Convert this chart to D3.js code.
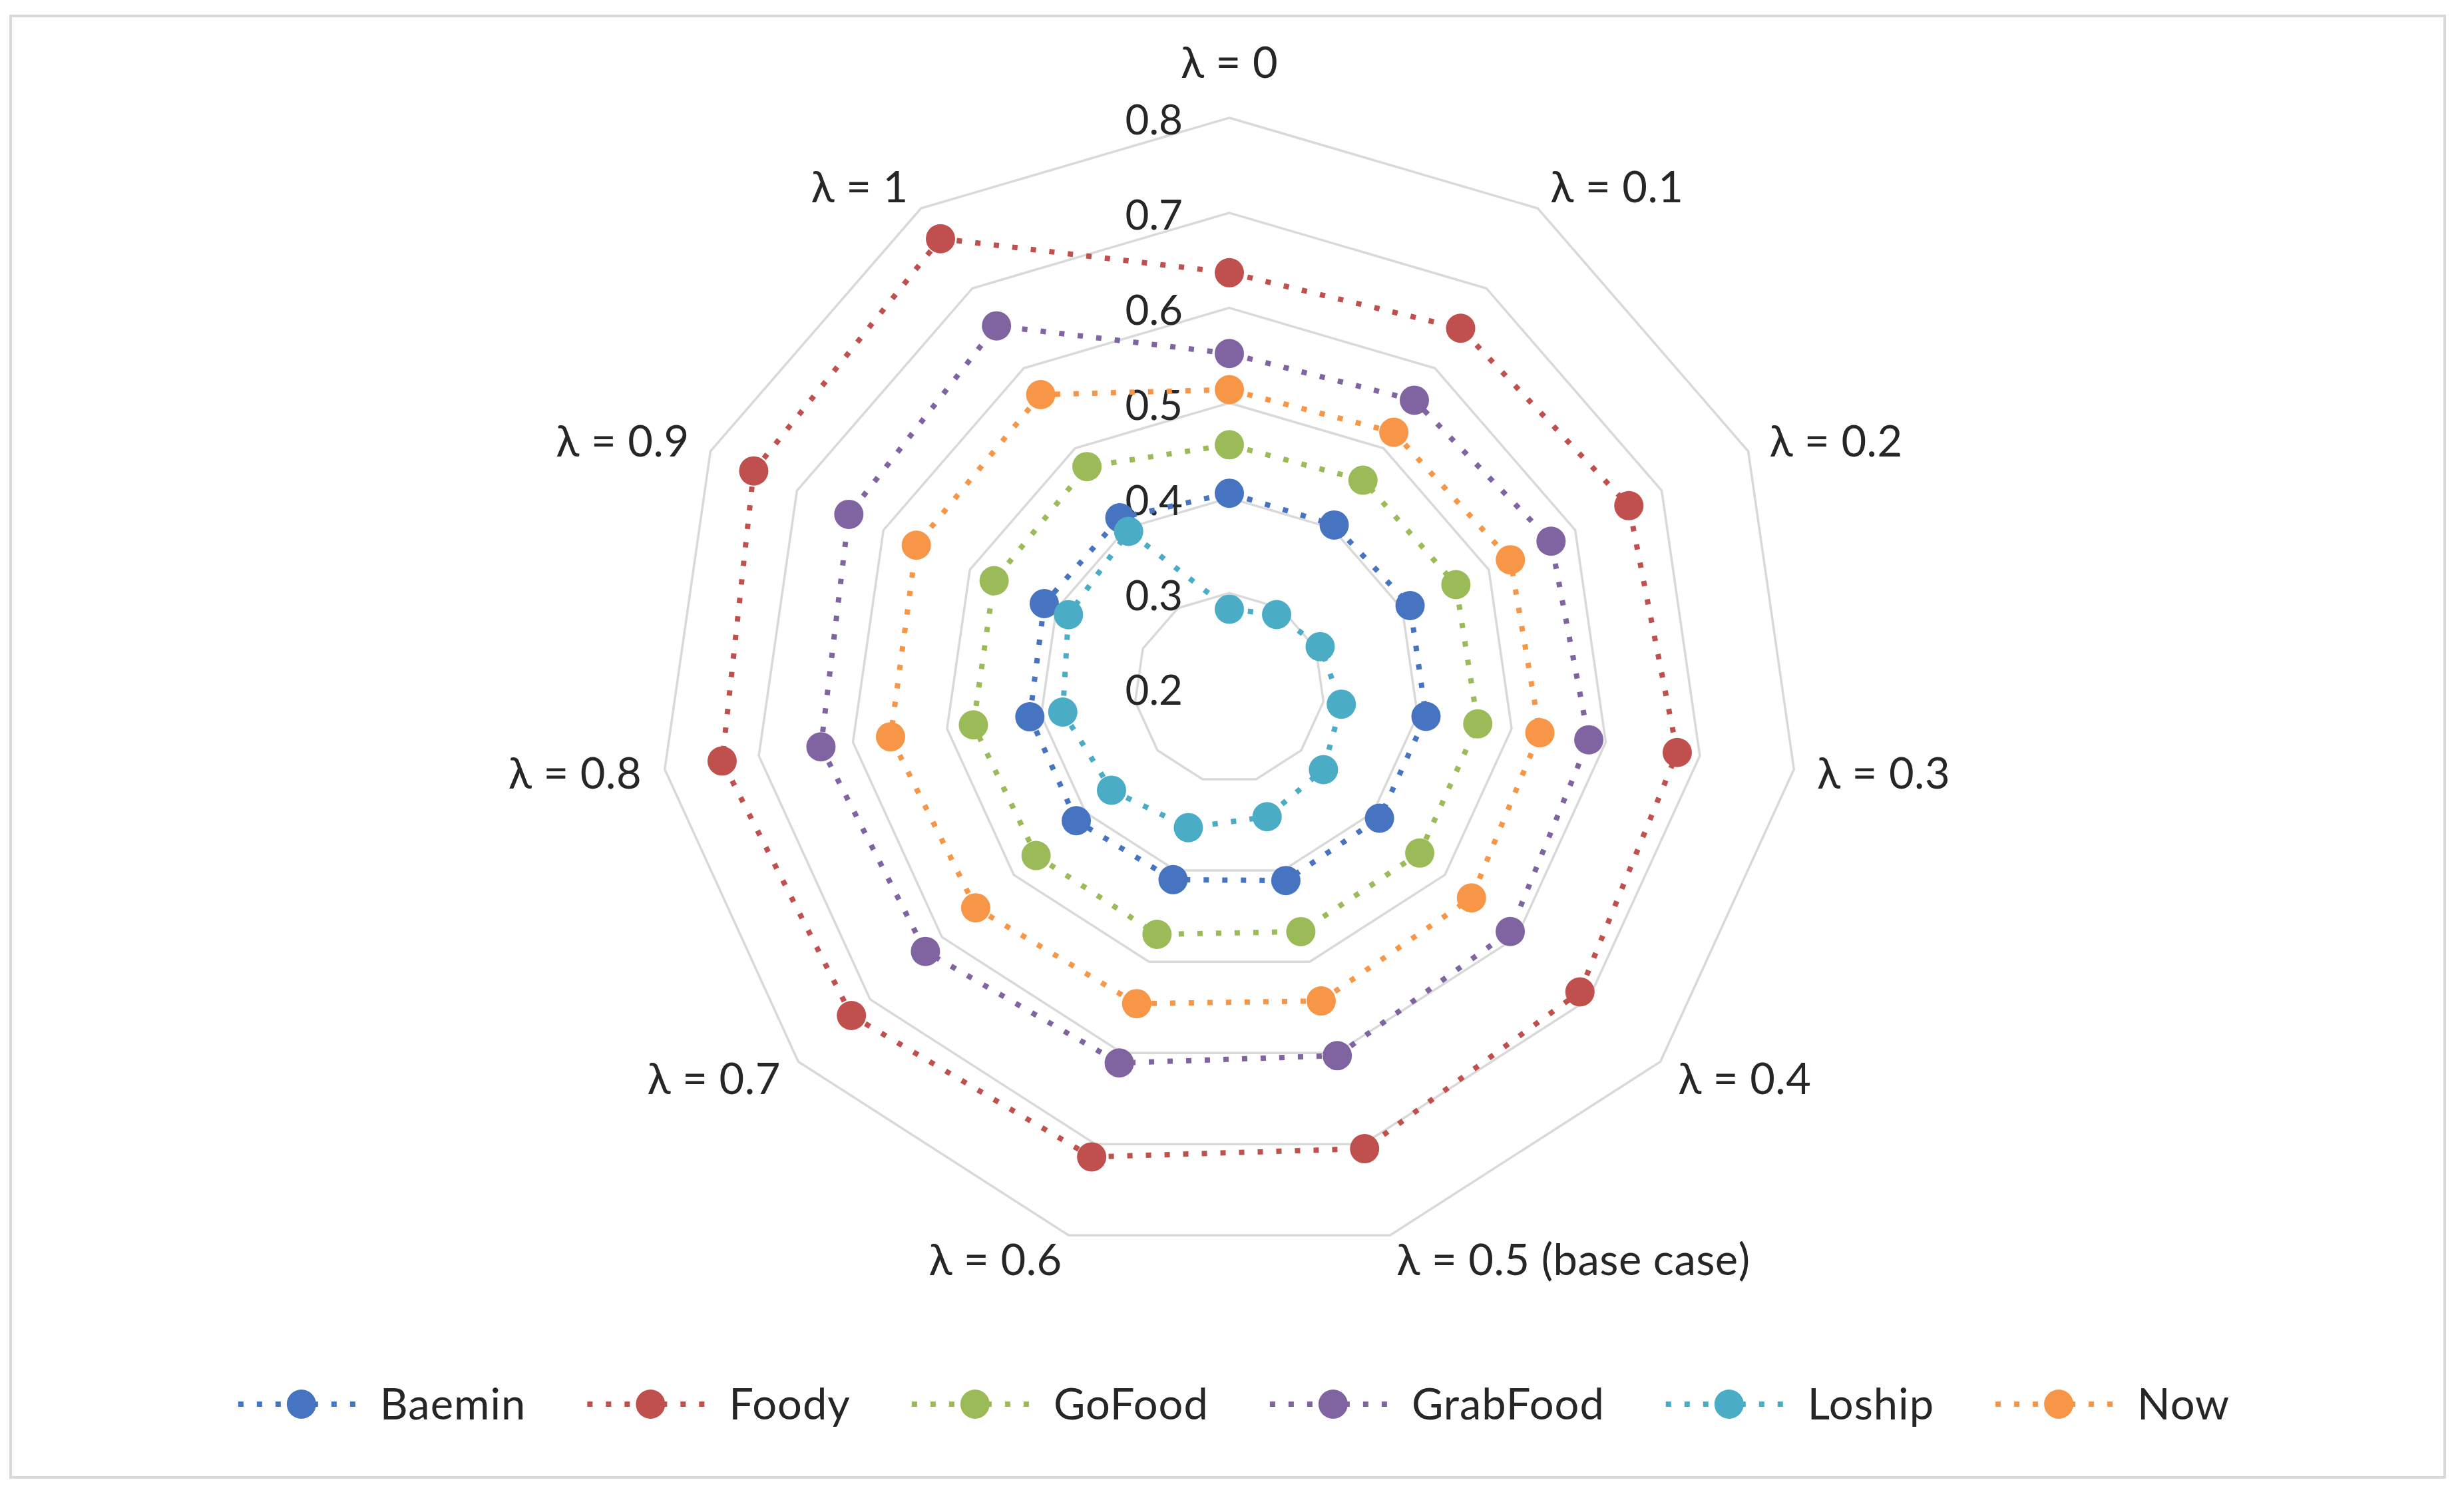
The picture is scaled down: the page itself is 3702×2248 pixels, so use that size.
<!DOCTYPE html>
<html><head><meta charset="utf-8">
<script src="https://cdn.jsdelivr.net/npm/d3@7"></script>
<style>
body{margin:0;background:#fff}
text{font-family:Lato,"Open Sans",sans-serif;fill:#262626}
</style>
</head><body>
<svg id="chart" width="3702" height="2248"></svg>
<script>
// ---------- data ----------
const categories = ["λ = 0","λ = 0.1","λ = 0.2","λ = 0.3","λ = 0.4","λ = 0.5 (base case)","λ = 0.6","λ = 0.7","λ = 0.8","λ = 0.9","λ = 1"];
const seriesNames = ["Baemin","Foody","GoFood","GrabFood","Loship","Now"];
const baemin   = [0.405,0.404,0.409,0.409,0.409,0.411,0.410,0.413,0.412,0.414,0.413];
const foody    = [0.637,0.650,0.662,0.676,0.688,0.705,0.714,0.726,0.739,0.750,0.762];
const gofood   = [0.456,0.460,0.462,0.464,0.465,0.467,0.470,0.469,0.472,0.472,0.477];
const grabfood = [0.552,0.560,0.572,0.582,0.591,0.603,0.611,0.623,0.634,0.640,0.653];
const loship   = [0.283,0.292,0.305,0.319,0.331,0.341,0.353,0.364,0.377,0.386,0.396];
const now      = [0.514,0.520,0.525,0.530,0.537,0.543,0.546,0.553,0.560,0.562,0.567];
const tickValues = [0.2,0.3,0.4,0.5,0.6,0.7,0.8];
const tickLabels = ["0.2","0.3","0.4","0.5","0.6","0.7","0.8"];
const seriesValues = [baemin, foody, gofood, grabfood, loship, now];
const seriesColors = ["#4674C1","#C0504D","#9BBB59","#8064A2","#4BACC6","#F79646"];

// ---------- layout ----------
const W = 3702, H = 2248;
const cx = 1847, cy = 1034, R = 857;
const FS = 62, LFS = 65;
const svg = d3.select("#chart");

svg.append("rect").attr("x",16).attr("y",24).attr("width",W-16-29).attr("height",H-24-28)
  .attr("fill","#fff").attr("stroke","#d9d9d9").attr("stroke-width",4);

const r = d3.scaleLinear().domain([0.2,0.8]).range([0,R]);
const angle = d3.scaleLinear().domain([0,categories.length]).range([0,2*Math.PI]);
const radial = d3.lineRadial().angle((d,i)=>angle(i)).radius(d=>r(d)).curve(d3.curveLinearClosed);

const g = svg.append("g").attr("transform",`translate(${cx},${cy})`);

// grid rings
g.selectAll("path.ring").data(tickValues.slice(1)).join("path")
  .attr("class","ring")
  .attr("d", t => radial(categories.map(()=>t)))
  .attr("fill","none").attr("stroke","#d9d9d9").attr("stroke-width",3.5);

// value labels
g.selectAll("text.tick").data(tickValues).join("text")
  .attr("class","tick")
  .attr("x",-70).attr("y",t => -r(t) + 3 + 0.36*FS)
  .attr("text-anchor","end").attr("font-size",FS)
  .text((t,i)=>tickLabels[i]);

// category labels
categories.forEach((c,i)=>{
  const a = angle(i), s = Math.sin(a), co = Math.cos(a);
  const vx = R*s, vy = -R*co;
  let x, y, anchor;
  if (Math.abs(s) < 0.1) {
    x = vx; anchor = "middle";
    y = co > 0 ? vy - 83 : vy + 83;
  } else {
    x = vx + 35*s; anchor = s > 0 ? "start" : "end";
    y = vy - 38*co;
  }
  g.append("text").attr("x",x).attr("y",y + 0.36*LFS)
    .attr("text-anchor",anchor).attr("font-size",LFS).attr("letter-spacing",0.5).text(c);
});

// series
seriesValues.forEach((vals,k)=>{
  const sg = g.append("g");
  sg.append("path").attr("d",radial(vals)).attr("fill","none")
    .attr("stroke",seriesColors[k]).attr("stroke-width",8)
    .attr("stroke-dasharray","8 20");
  sg.selectAll("circle").data(vals).join("circle")
    .attr("cx",(d,i)=>d3.pointRadial(angle(i), r(d))[0])
    .attr("cy",(d,i)=>d3.pointRadial(angle(i), r(d))[1])
    .attr("r",22).attr("fill",seriesColors[k]);
});

// legend
const legY = 2110;
const lg = svg.append("g");
const items = seriesNames.map((n,k)=>{
  const it = lg.append("g");
  it.append("line").attr("x1",-95).attr("x2",85).attr("y1",0).attr("y2",0)
    .attr("stroke",seriesColors[k]).attr("stroke-width",8).attr("stroke-dasharray","8 20");
  it.append("circle").attr("r",22).attr("fill",seriesColors[k]);
  const t = it.append("text").attr("x",118).attr("y",0.36*LFS).attr("font-size",LFS)
    .attr("letter-spacing",1).text(n);
  return {it, w: t.node().getComputedTextLength()};
});
let total = 0;
items.forEach((d,k)=>{ d.off = total; total += 118 + d.w + (k < items.length-1 ? 187 : 0); });
const span = 95 + total;
const start = 1854 - span/2 + 95;
items.forEach(d=> d.it.attr("transform",`translate(${start + d.off},${legY})`));
</script>
</body></html>
